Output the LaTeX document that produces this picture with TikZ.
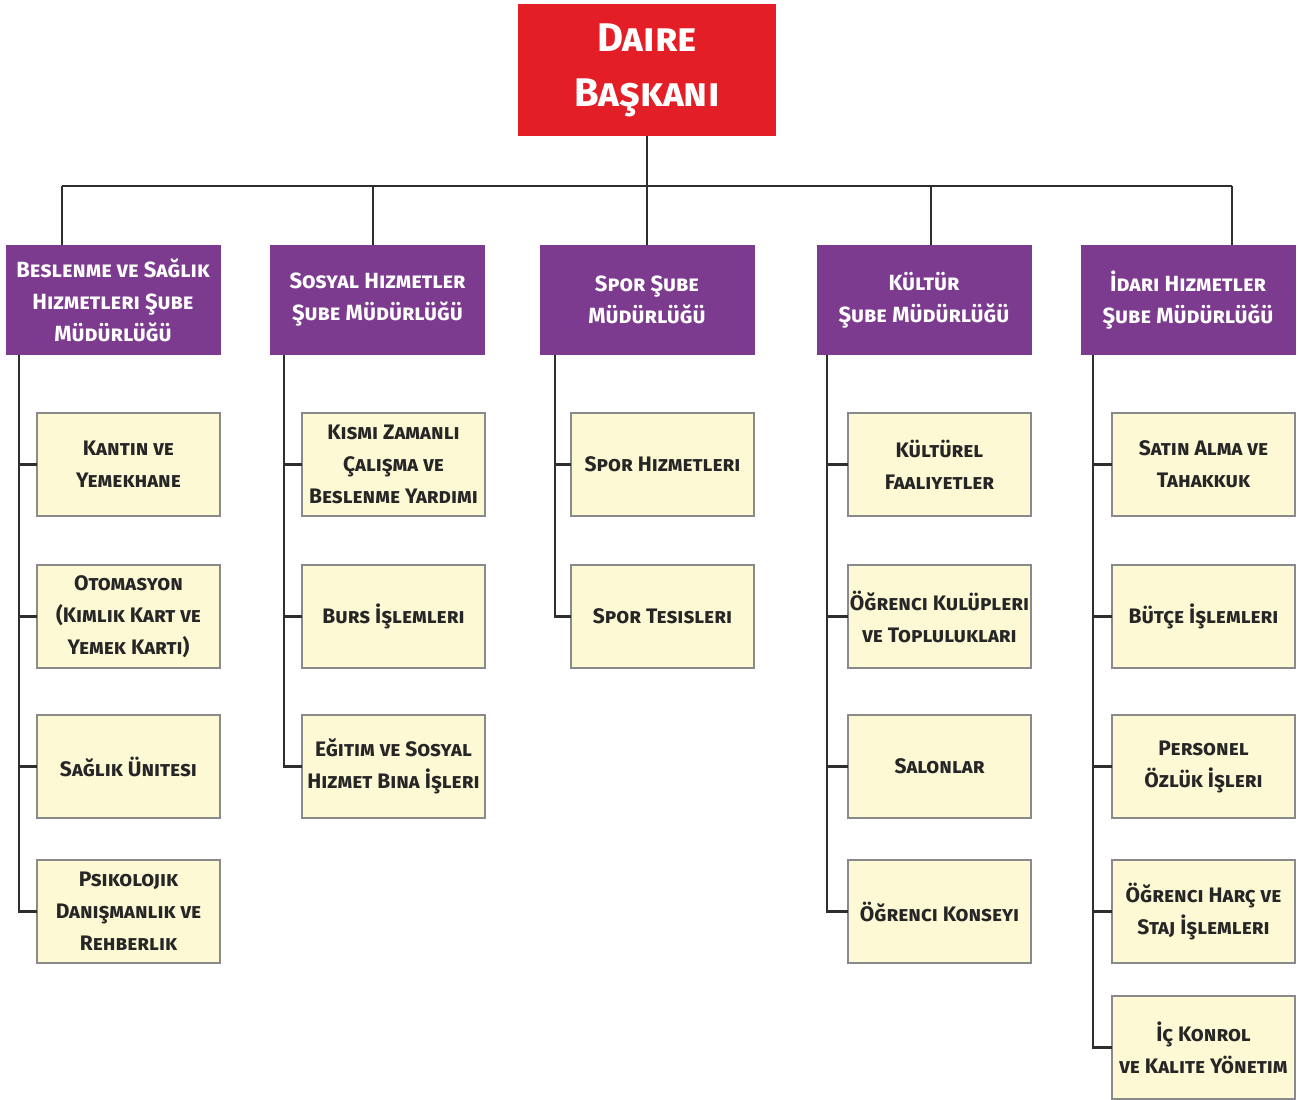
\documentclass[tikz,border=0pt]{standalone}
\usepackage{fontspec}
\setmainfont{Fira Sans}
\definecolor{topred}{HTML}{E31E26}
\definecolor{headpurple}{HTML}{7C3B8E}
\definecolor{cream}{HTML}{FDF9D5}
\definecolor{boxline}{HTML}{8A8A8A}
\definecolor{conn}{HTML}{2E2E2E}
\tikzset{
  topbox/.style={fill=topred, draw=none, minimum width=258pt, minimum height=132pt, inner sep=0pt, outer sep=0pt, text=white, align=center, font=\fontsize{40}{55}\selectfont\bfseries\scshape},
  headbox/.style={fill=headpurple, draw=none, minimum width=215pt, minimum height=110pt, inner sep=0pt, outer sep=0pt, text=white, align=center, font=\fontsize{22}{32}\selectfont\bfseries\scshape},
  childbox/.style={fill=cream, draw=boxline, line width=1.5pt, minimum width=183pt, minimum height=103pt, inner sep=0pt, outer sep=0pt, text=black!85, align=center, font=\fontsize{21}{32}\selectfont\bfseries\scshape},
  link/.style={draw=conn, line width=2.6pt}
}
\begin{document}
\begin{tikzpicture}[x=1pt,y=-1pt]
\useasboundingbox (0,0) rectangle (1299,1100);
% top
\node[topbox] (top) at (647,70) {Daire\\Başkanı};
\coordinate (bus) at (647,186);
% heads
\node[headbox] (h1) at (113,300) {Beslenme ve Sağlık\\Hizmetleri Şube\\Müdürlüğü};
\node[headbox] (h2) at (377.5,300) {Sosyal Hizmetler\\Şube Müdürlüğü};
\node[headbox] (h3) at (647,300) {Spor Şube\\Müdürlüğü};
\node[headbox] (h4) at (924,300) {Kültür\\Şube Müdürlüğü};
\node[headbox] (h5) at (1188,300) {İdari Hizmetler\\Şube Müdürlüğü};
% column 1
\node[childbox] (c11) at (128.5,464.5) {Kantin ve\\Yemekhane};
\node[childbox] (c12) at (128.5,616.5) {Otomasyon\\(Kimlik Kart ve\\Yemek Kartı)};
\node[childbox] (c13) at (128.5,766.5) {Sağlık Ünitesi};
\node[childbox] (c14) at (128.5,911.5) {Psikolojik\\Danışmanlık ve\\Rehberlik};
% column 2
\node[childbox] (c21) at (393.5,464.5) {Kısmi Zamanlı\\Çalışma ve\\Beslenme Yardımı};
\node[childbox] (c22) at (393.5,616.5) {Burs İşlemleri};
\node[childbox] (c23) at (393.5,766.5) {Eğitim ve Sosyal\\Hizmet Bina İşleri};
% column 3
\node[childbox] (c31) at (662.5,464.5) {Spor Hizmetleri};
\node[childbox] (c32) at (662.5,616.5) {Spor Tesisleri};
% column 4
\node[childbox] (c41) at (939.5,464.5) {Kültürel\\Faaliyetler};
\node[childbox] (c42) at (939.5,616.5) {Öğrenci Kulüpleri\\ve Toplulukları};
\node[childbox] (c43) at (939.5,766.5) {Salonlar};
\node[childbox] (c44) at (939.5,911.5) {Öğrenci Konseyi};
% column 5
\node[childbox] (c51) at (1203.5,464.5) {Satın Alma ve\\Tahakkuk};
\node[childbox] (c52) at (1203.5,616.5) {Bütçe İşlemleri};
\node[childbox] (c53) at (1203.5,766.5) {Personel\\Özlük İşleri};
\node[childbox] (c54) at (1203.5,911.5) {Öğrenci Harç ve\\Staj İşlemleri};
\node[childbox] (c55) at (1203.5,1047.5) {İç Konrol\\ve Kalite Yönetim};
% spine coordinates
\coordinate (s1) at (19,355);
\coordinate (s2) at (284,355);
\coordinate (s3) at (555,355);
\coordinate (s4) at (827,355);
\coordinate (s5) at (1093,355);
% top connectors
\draw[link] (top.south) -- (bus);
\draw[link] ([xshift=-51pt]h1.north |- bus) -- ([xshift=44pt]h5.north |- bus);
\draw[link] ([xshift=-51pt]h1.north) -- ([xshift=-51pt]h1.north |- bus);
\draw[link] ([xshift=-4.5pt]h2.north) -- ([xshift=-4.5pt]h2.north |- bus);
\draw[link] (h3.north) -- (h3.north |- bus);
\draw[link] ([xshift=7pt]h4.north) -- ([xshift=7pt]h4.north |- bus);
\draw[link] ([xshift=44pt]h5.north) -- ([xshift=44pt]h5.north |- bus);
% spines
\draw[link] (s1) |- (c14.west);
\foreach \c in {c11,c12,c13} \draw[link] (\c.west) -- (\c.west -| s1);
\draw[link] (s2) |- (c23.west);
\foreach \c in {c21,c22} \draw[link] (\c.west) -- (\c.west -| s2);
\draw[link] (s3) |- (c32.west);
\draw[link] (c31.west) -- (c31.west -| s3);
\draw[link] (s4) |- (c44.west);
\foreach \c in {c41,c42,c43} \draw[link] (\c.west) -- (\c.west -| s4);
\draw[link] (s5) |- (c55.west);
\foreach \c in {c51,c52,c53,c54} \draw[link] (\c.west) -- (\c.west -| s5);
\end{tikzpicture}
\end{document}
